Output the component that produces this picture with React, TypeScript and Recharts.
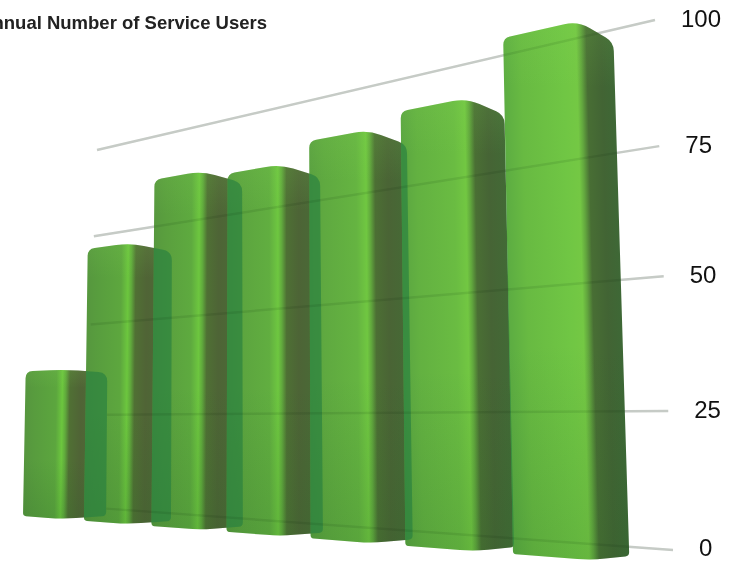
import { BarChart, Bar, XAxis, YAxis, CartesianGrid } from "recharts";

const categories = ["1", "2", "3", "4", "5", "6", "7"];
const users = [37.7, 68, 82.7, 81, 85, 87.6, 98];
const tickValues = [0, 25, 50, 75, 100];

const data = categories.map((year, i) => ({ year, users: users[i] }));

const W = 735;
const H = 561;
const MARGIN = 20;
const AXIS_W = 40;
const PLOT_W = W - MARGIN * 2 - AXIS_W;
const PLOT_H = H - MARGIN * 2;
const BAND = PLOT_W / categories.length;
const GAP = 0.35;

type Pt = [number, number];

// unit square -> perspective quad (bl, br, tr, tl)
function perspective(p0: Pt, p1: Pt, p2: Pt, p3: Pt) {
  const dx1 = p1[0] - p2[0], dx2 = p3[0] - p2[0], sx = p0[0] - p1[0] + p2[0] - p3[0];
  const dy1 = p1[1] - p2[1], dy2 = p3[1] - p2[1], sy = p0[1] - p1[1] + p2[1] - p3[1];
  const den = dx1 * dy2 - dx2 * dy1;
  const g = (sx * dy2 - dx2 * sy) / den;
  const h = (dx1 * sy - sx * dy1) / den;
  const a = p1[0] - p0[0] + g * p1[0], b = p3[0] - p0[0] + h * p3[0];
  const d = p1[1] - p0[1] + g * p1[1], e = p3[1] - p0[1] + h * p3[1];
  return (s: number, t: number): Pt => {
    const w = g * s + h * t + 1;
    return [(a * s + b * t + p0[0]) / w, (d * s + e * t + p0[1]) / w];
  };
}

const frontPlane = perspective([23, 516], [513, 554], [503, 28], [30, 139]);
const backPlane = perspective([106, 516], [629, 556], [613, 32], [109, 142]);
const wallPlane = perspective([84, 507], [673, 550], [655, 20], [97, 150]);

const toT = (y: number) => 1 - (y - MARGIN) / PLOT_H;
const toBand = (x: number) => (x - MARGIN) / BAND;
const frontAt = (x: number, y: number) => frontPlane((toBand(x) - GAP / 2) / (categories.length - 1), toT(y));
const backAt = (x: number, y: number) => backPlane((toBand(x) - 1 + GAP / 2) / (categories.length - 1), toT(y));

function outline(x: number, y: number, w: number, h: number): Pt[] {
  return [
    frontAt(x, y), frontAt(x + w, y), backAt(x + w, y),
    backAt(x + w, y + h), frontAt(x + w, y + h), frontAt(x, y + h),
  ];
}

const CORNERS = [7, 14, 9, 4, 14, 3];

function roundedPath(pts: Pt[]) {
  let d = "";
  pts.forEach((p, i) => {
    const prev = pts[(i + pts.length - 1) % pts.length];
    const next = pts[(i + 1) % pts.length];
    const lp = Math.hypot(prev[0] - p[0], prev[1] - p[1]);
    const ln = Math.hypot(next[0] - p[0], next[1] - p[1]);
    const rp = Math.min(CORNERS[i] / lp, 0.5);
    const rn = Math.min(CORNERS[i] / ln, 0.5);
    const a = [p[0] + (prev[0] - p[0]) * rp, p[1] + (prev[1] - p[1]) * rp];
    const b = [p[0] + (next[0] - p[0]) * rn, p[1] + (next[1] - p[1]) * rn];
    d += `${i === 0 ? "M" : "L"}${a[0]},${a[1]} Q${p[0]},${p[1]} ${b[0]},${b[1]} `;
  });
  return d + "Z";
}

function mix(c1: number[], c2: number[], k: number) {
  return `rgb(${c1.map((c, i) => Math.round(c + (c2[i] - c) * k)).join(",")})`;
}

function BarShape(props: any) {
  const { x, y, width, height, index } = props;
  const pts = outline(x, y, width, height);
  const d = roundedPath(pts);

  // gradient runs across the ridge between the two faces
  const mid = (a: Pt, b: Pt): Pt => [(a[0] + b[0]) / 2, (a[1] + b[1]) / 2];
  const left = mid(pts[0], pts[5]);
  const ridge = mid(pts[1], pts[4]);
  const right = mid(pts[2], pts[3]);
  const rx = pts[4][0] - pts[1][0], ry = pts[4][1] - pts[1][1];
  const len = Math.hypot(rx, ry);
  const nx = ry / len, ny = -rx / len;
  const span = (right[0] - left[0]) * nx + (right[1] - left[1]) * ny;
  const r = ((ridge[0] - left[0]) * nx + (ridge[1] - left[1]) * ny) / span;

  const k = Math.pow(index / (categories.length - 1), 2);
  const stops: [number, string][] = [
    [0, mix([86, 150, 62], [92, 172, 66], k)],
    [r * 0.25, mix([88, 156, 62], [104, 186, 66], k)],
    [r * 0.8, mix([92, 166, 62], [112, 198, 68], k)],
    [r - 0.02, mix([108, 198, 62], [116, 200, 68], k)],
    [r + 0.02, mix([96, 170, 60], [98, 166, 62], k)],
    [r + 0.07, mix([80, 112, 52], [72, 110, 52], k)],
    [r + 0.2, mix([80, 100, 54], [66, 100, 52], k)],
    [1, mix([74, 110, 54], [62, 104, 54], k)],
  ];

  const prevPts = index > 0
    ? outline(x - BAND, MARGIN + PLOT_H * (1 - users[index - 1] / 100), width,
        PLOT_H * (users[index - 1] / 100))
    : null;

  return (
    <g>
      <defs>
        <linearGradient
          id={`faces-${index}`}
          gradientUnits="userSpaceOnUse"
          x1={left[0]} y1={left[1]}
          x2={left[0] + nx * span} y2={left[1] + ny * span}
        >
          {stops.map(([o, c]) => <stop key={o} offset={o} stopColor={c} />)}
        </linearGradient>
        <linearGradient id={`shade-${index}`} x1="0" y1="0" x2="0" y2="1">
          <stop offset="0" stopColor="#8fdc60" stopOpacity={0.12} />
          <stop offset="0.12" stopColor="#8fdc60" stopOpacity={0} />
          <stop offset="0.6" stopColor="#1d5a20" stopOpacity={0} />
          <stop offset="1" stopColor="#1d5a20" stopOpacity={0.16} />
        </linearGradient>
        <clipPath id={`sil-${index}`}><path d={d} /></clipPath>
      </defs>
      <path d={d} fill={`url(#faces-${index})`} />
      <path d={d} fill={`url(#shade-${index})`} />
      {prevPts && (
        <path
          d={roundedPath(prevPts)}
          fill="#278040"
          fillOpacity={0.66}
          clipPath={`url(#sil-${index})`}
        />
      )}
    </g>
  );
}

// grey line behind the bars
function gridLine(p: any) {
  const a = wallPlane(0, toT(p.y1));
  const b = wallPlane(1, toT(p.y1));
  return <line key={p.key ?? p.y1} x1={a[0]} y1={a[1]} x2={b[0]} y2={b[1]} stroke="#dcdcdc" strokeWidth={2.5} />;
}

// same line showing faintly through the bars, the first bar hides what is below its top
function gridLineOver(p: any) {
  const t = toT(p.y1);
  let s = 0;
  if (t * 100 < users[0]) {
    const hidden = backPlane(0, t)[0];
    while (wallPlane(s, t)[0] < hidden) s += 0.002;
  }
  const a = wallPlane(s, t);
  const b = wallPlane(1, t);
  return (
    <line
      key={p.key ?? p.y1}
      x1={a[0]} y1={a[1]} x2={b[0]} y2={b[1]}
      stroke="#e6ece6"
      strokeWidth={2.5}
      style={{ mixBlendMode: "multiply" }}
    />
  );
}

function AxisTick(p: any) {
  const end = wallPlane(1, toT(p.y));
  return (
    <text
      x={end[0] + 26}
      y={Math.min(end[1] + 7, 556)}
      fontSize={24}
      fill="#111"
      fontFamily="Liberation Sans, Arial, sans-serif"
    >
      {p.payload.value}
    </text>
  );
}

export default function App() {
  return (
    <div style={{ position: "absolute", left: 0, top: 0, width: W, height: H, overflow: "hidden", background: "#fff" }}>
      <div
        style={{
          position: "absolute", right: W - 267, top: 12, whiteSpace: "nowrap",
          font: "bold 18.5px 'Liberation Sans', Arial, sans-serif", color: "#222",
        }}
      >
        Annual Number of Service Users
      </div>
      <BarChart
        width={W}
        height={H}
        data={data}
        margin={{ top: MARGIN, right: MARGIN, bottom: MARGIN, left: MARGIN }}
        barCategoryGap={`${GAP * 50}%`}
      >
        <XAxis dataKey="year" hide />
        <YAxis
          orientation="right"
          width={AXIS_W}
          domain={[0, 100]}
          ticks={tickValues}
          axisLine={false}
          tickLine={false}
          tick={(p: any) => <AxisTick {...p} />}
        />
        <CartesianGrid vertical={false} horizontal={gridLine} />
        <Bar dataKey="users" isAnimationActive={false} shape={(p: any) => <BarShape {...p} />} />
        <CartesianGrid vertical={false} horizontal={gridLineOver} zIndex={1000} />
      </BarChart>
    </div>
  );
}
